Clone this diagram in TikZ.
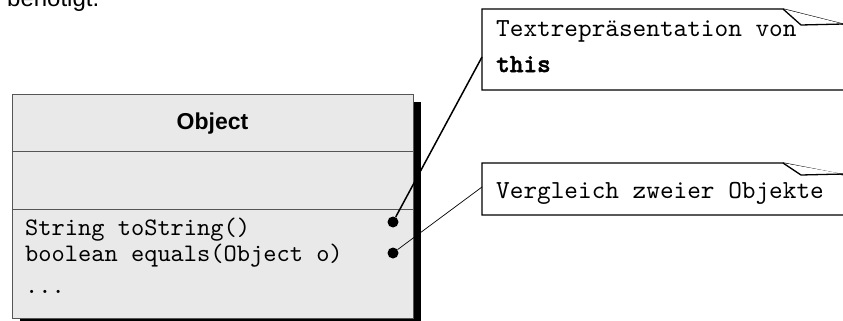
\documentclass[tikz,border=0pt]{standalone}
\usepackage{fontspec}
\setmainfont{Liberation Sans}
\setmonofont{lmmono10-regular.otf}[BoldFont=lmmonolt10-bold.otf, BoldFeatures={FakeBold=2}]
\usetikzlibrary{positioning, shadows}
\definecolor{umlfill}{HTML}{E9E9E9}
\definecolor{umlline}{HTML}{555555}

\begin{document}
\begin{tikzpicture}[
    x=1pt, y=-1pt,
    classbox/.style={
        rectangle,
        minimum width=401pt,
        minimum height=224pt,
        inner sep=0pt,
        draw=umlline,
        line width=1pt,
        fill=umlfill,
        drop shadow={shadow xshift=8pt, shadow yshift=-8pt, fill=black, opacity=1}
    },
    member/.style={
        anchor=base west,
        inner sep=0pt,
        font=\fontsize{25.2}{29}\selectfont\ttfamily
    },
    notetext/.style={
        anchor=base west,
        inner sep=0pt,
        font=\fontsize{26}{30}\selectfont\ttfamily
    },
    pin/.style={
        circle,
        fill=black,
        inner sep=0pt,
        minimum size=11pt
    },
    note/.style={
        draw=black,
        line width=1.3pt,
        fill=white,
        line join=miter
    }
]
\useasboundingbox (0,0) rectangle (843,321);

% Text above
\node[font=\fontsize{24}{28}\selectfont, anchor=base west, inner sep=0pt] (intro) at (7,7) {benötigt.};

% Class
\node[classbox] (obj) at (212.5,206) {};
\draw[umlline] (obj.west |- 0,151) -- (obj.east |- 0,151);
\draw[umlline] (obj.west |- 0,209) -- (obj.east |- 0,209);
\node[font=\fontsize{23}{27}\selectfont\bfseries, anchor=base, inner sep=0pt] (title) at (212.5,129) {Object};

% Members
\node[member] (tostr) at (25,235) {String toString()};
\node[member] (equals) at (25,261) {boolean equals(Object o)};
\node[member] (more) at (25,293) {...};

% Pins
\node[pin] (pin1) at (393,222) {};
\node[pin] (pin2) at (393,253) {};

% Notes
\draw[note] (870,90) -- (482,90) -- (482,9) -- (783,9) -- (870,31);
\draw[note] (783,9) -- (801,25) -- (843,24);
\node[notetext] (note1) at (496,37) {Textrepräsentation von};
\node[notetext] (note1b) at (496,72) {\textbf{this}};

\draw[note] (870,215) -- (482,215) -- (482,163) -- (783,163) -- (870,180);
\draw[note] (783,163) -- (801,175) -- (843,174);
\node[notetext] (note2) at (496,198) {Vergleich zweier Objekte};

% Connections
\coordinate (n1in) at (482,57);
\coordinate (n2in) at (482,187);
\draw[line width=1.5pt] (pin1) -- (n1in);
\draw[line width=0.7pt] (pin2) -- (n2in);

\end{tikzpicture}
\end{document}
